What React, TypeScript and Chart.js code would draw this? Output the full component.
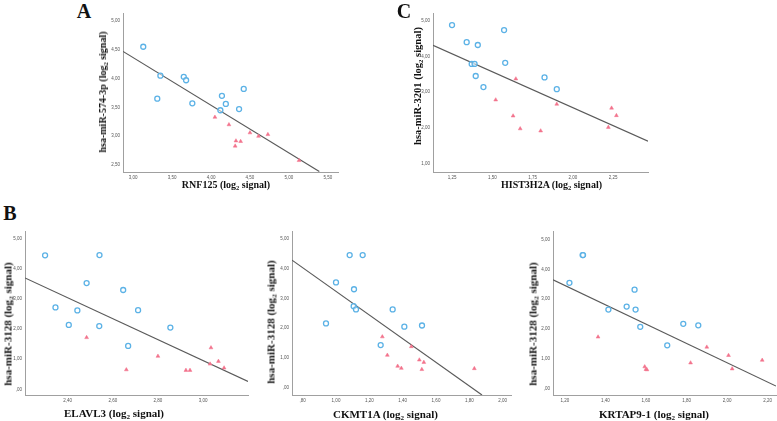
import React, { useEffect, useRef } from "react";
import { Chart, registerables } from "chart.js";

Chart.register(...registerables);

// ---------- Panel A: RNF125 vs hsa-miR-574-3p ----------
const aTicksX = [3.0, 3.5, 4.0, 4.5, 5.0, 5.5];
const aTicksY = [2.5, 3.0, 3.5, 4.0, 4.5, 5.0];
const aBlueX = [3.13, 3.35, 3.31, 3.65, 3.68, 3.76, 4.14, 4.19, 4.12, 4.36, 4.42];
const aBlueY = [4.55, 4.05, 3.65, 4.03, 3.97, 3.57, 3.7, 3.56, 3.45, 3.47, 3.82];
const aRedX = [4.05, 4.23, 4.5, 4.61, 4.73, 4.32, 4.38, 4.31, 5.13];
const aRedY = [3.33, 3.2, 3.06, 3.0, 3.03, 2.92, 2.91, 2.83, 2.58];
const aFitX = [2.87, 5.39];
const aFitY = [4.47, 2.39];

// ---------- Panel C: HIST3H2A vs hsa-miR-3201 ----------
const cTicksX = [1.25, 1.5, 1.75, 2.0, 2.25];
const cTicksY = [1, 2, 3, 4, 5];
const cBlueX = [1.25, 1.341, 1.41, 1.372, 1.39, 1.397, 1.445, 1.573, 1.58, 1.824, 1.9];
const cBlueY = [4.88, 4.4, 4.32, 3.79, 3.79, 3.45, 3.14, 4.74, 3.82, 3.41, 3.08];
const cRedX = [1.521, 1.646, 1.629, 1.673, 1.8, 1.9, 2.24, 2.27, 2.22];
const cRedY = [2.78, 3.37, 2.33, 1.97, 1.91, 2.66, 2.55, 2.34, 2.01];
const cFitX = [1.132, 2.466];
const cFitY = [4.31, 1.62];

// ---------- Panel B (left): ELAVL3 vs hsa-miR-3128 ----------
const bTicksY = [0, 1, 2, 3, 4, 5];
const b1TicksX = [2.4, 2.6, 2.8, 3.0];
const b1BlueX = [2.3, 2.346, 2.443, 2.405, 2.484, 2.541, 2.54, 2.646, 2.712, 2.668, 2.855];
const b1BlueY = [4.45, 2.72, 2.62, 2.14, 3.53, 4.46, 2.1, 3.3, 2.63, 1.44, 2.05];
const b1RedX = [2.484, 2.66, 2.8, 2.924, 2.942, 3.035, 3.031, 3.068, 3.093];
const b1RedY = [1.72, 0.65, 1.1, 0.63, 0.63, 1.38, 0.84, 0.93, 0.71];
const b1FitX = [2.211, 3.199];
const b1FitY = [3.7, 0.26];

// ---------- Panel B (middle): CKMT1A vs hsa-miR-3128 ----------
const b2TicksX = [0.8, 1.0, 1.2, 1.4, 1.6, 1.8, 2.0];
const b2BlueX = [0.94, 1.0, 1.082, 1.16, 1.108, 1.106, 1.12, 1.34, 1.268, 1.41, 1.516];
const b2BlueY = [2.16, 3.54, 4.46, 4.46, 3.31, 2.74, 2.63, 2.63, 1.43, 2.05, 2.09];
const b2RedX = [1.278, 1.308, 1.452, 1.37, 1.392, 1.5, 1.527, 1.515, 1.83];
const b2RedY = [1.71, 1.09, 1.38, 0.72, 0.65, 0.93, 0.85, 0.61, 0.64];
const b2FitX = [0.736, 1.876];
const b2FitY = [4.29, -0.25];

// ---------- Panel B (right): KRTAP9-1 vs hsa-miR-3128 ----------
const b3TicksX = [1.2, 1.4, 1.6, 1.8, 2.0, 2.2];
const b3BlueX = [1.223, 1.288, 1.29, 1.415, 1.505, 1.544, 1.549, 1.572, 1.705, 1.784, 1.858];
const b3BlueY = [3.55, 4.48, 4.48, 2.65, 2.75, 3.32, 2.65, 2.07, 1.45, 2.17, 2.12];
const b3RedX = [1.364, 1.594, 1.605, 1.6, 1.82, 1.9, 2.007, 2.025, 2.173];
const b3RedY = [1.73, 0.73, 0.63, 0.64, 0.86, 1.39, 1.11, 0.66, 0.95];
const b3FitX = [1.142, 2.241];
const b3FitY = [3.65, 0.08];

const BLUE = "#5cb2e6";
const RED = "#f2738c";
const SERIF = "'Liberation Serif', 'Times New Roman', serif";
const SANS = "'Liberation Sans', Arial, sans-serif";

const zip = (xs: number[], ys: number[]) => xs.map((x, i) => ({ x, y: ys[i] }));
const fmt = (v: number) => {
  const s = v.toFixed(2).replace(".", ",");
  return s.startsWith("0,") ? s.slice(1) : s;
};

type PanelCfg = {
  left: number; top: number; w: number; h: number;
  xMin: number; xMax: number; yMin: number; yMax: number;
  xTicks: number[]; yTicks: number[];
  blueX: number[]; blueY: number[]; redX: number[]; redY: number[];
  fitX: number[]; fitY: number[];
};

const Y_AXIS_W = 26;
const X_AXIS_H = 14;
const PAD_R = 6;

function Panel({ cfg }: { cfg: PanelCfg }) {
  const ref = useRef<HTMLCanvasElement | null>(null);
  const cw = Y_AXIS_W + cfg.w + PAD_R;
  const ch = cfg.h + X_AXIS_H;
  useEffect(() => {
    if (!ref.current) return;
    const tickFont = { size: 4.5, family: SANS };
    const chart = new Chart(ref.current, {
      type: "scatter",
      data: {
        datasets: [
          {
            data: zip(cfg.blueX, cfg.blueY),
            pointStyle: "circle",
            pointRadius: 2.5,
            borderColor: BLUE,
            backgroundColor: "rgba(255,255,255,0.5)",
            borderWidth: 1.3,
          },
          {
            data: zip(cfg.redX, cfg.redY),
            pointStyle: "triangle",
            pointRadius: 2.2,
            borderColor: RED,
            backgroundColor: RED,
            borderWidth: 0.5,
          },
          {
            type: "line",
            data: zip(cfg.fitX, cfg.fitY),
            borderColor: "#5a5a5a",
            borderWidth: 1.2,
            pointRadius: 0,
            fill: false,
            showLine: true,
          } as any,
        ],
      },
      options: {
        animation: false,
        responsive: false,
        maintainAspectRatio: false,
        events: [],
        layout: { padding: { top: 0, right: PAD_R, bottom: 0, left: 0 } },
        plugins: { legend: { display: false }, tooltip: { enabled: false } },
        scales: {
          x: {
            type: "linear",
            min: cfg.xMin,
            max: cfg.xMax,
            grid: { display: false, drawTicks: false },
            border: { display: true, color: "#a0a0a0", width: 1 },
            ticks: { font: tickFont, color: "#555", padding: 3, maxRotation: 0, autoSkip: false, callback: (v: any) => fmt(Number(v)) },
            afterBuildTicks: (s: any) => { s.ticks = cfg.xTicks.map((v) => ({ value: v })); },
            afterFit: (s: any) => { s.height = X_AXIS_H; s.paddingLeft = 0; s.paddingRight = 0; },
          },
          y: {
            type: "linear",
            min: cfg.yMin,
            max: cfg.yMax,
            grid: { display: false, drawTicks: false },
            border: { display: true, color: "#a0a0a0", width: 1 },
            ticks: { font: tickFont, color: "#555", padding: 3, autoSkip: false, callback: (v: any) => fmt(Number(v)) },
            afterBuildTicks: (s: any) => { s.ticks = cfg.yTicks.map((v) => ({ value: v })); },
            afterFit: (s: any) => { s.width = Y_AXIS_W; s.paddingTop = 0; s.paddingBottom = 0; },
          },
        },
      } as any,
    });
    return () => chart.destroy();
  }, [cfg]);
  return (
    <canvas
      ref={ref}
      width={cw}
      height={ch}
      style={{ position: "absolute", left: cfg.left - Y_AXIS_W, top: cfg.top, width: cw, height: ch }}
    />
  );
}

const panels: PanelCfg[] = [
  { left: 123, top: 8, w: 215, h: 164, xMin: 2.87, xMax: 5.63, yMin: 2.38, yMax: 5.13, xTicks: aTicksX, yTicks: aTicksY,
    blueX: aBlueX, blueY: aBlueY, redX: aRedX, redY: aRedY, fitX: aFitX, fitY: aFitY },
  { left: 433, top: 8, w: 215, h: 164, xMin: 1.132, xMax: 2.466, yMin: 0.755, yMax: 5.21, xTicks: cTicksX, yTicks: cTicksY,
    blueX: cBlueX, blueY: cBlueY, redX: cRedX, redY: cRedY, fitX: cFitX, fitY: cFitY },
  { left: 25, top: 226, w: 223, h: 169, xMin: 2.211, xMax: 3.199, yMin: -0.19, yMax: 5.25, xTicks: b1TicksX, yTicks: bTicksY,
    blueX: b1BlueX, blueY: b1BlueY, redX: b1RedX, redY: b1RedY, fitX: b1FitX, fitY: b1FitY },
  { left: 292, top: 226, w: 219, h: 169, xMin: 0.736, xMax: 2.05, yMin: -0.25, yMax: 5.26, xTicks: b2TicksX, yTicks: bTicksY,
    blueX: b2BlueX, blueY: b2BlueY, redX: b2RedX, redY: b2RedY, fitX: b2FitX, fitY: b2FitY },
  { left: 553, top: 226, w: 223, h: 169, xMin: 1.142, xMax: 2.241, yMin: -0.22, yMax: 5.28, xTicks: b3TicksX, yTicks: bTicksY,
    blueX: b3BlueX, blueY: b3BlueY, redX: b3RedX, redY: b3RedY, fitX: b3FitX, fitY: b3FitY },
];

function Label({ x, y, size, rotate, children }: { x: number; y: number; size: number; rotate?: boolean; children: React.ReactNode }) {
  return (
    <div
      style={{
        position: "absolute",
        left: x,
        top: y,
        transform: `translate(-50%, -50%)${rotate ? " rotate(-90deg)" : ""}`,
        fontFamily: SERIF,
        fontWeight: "bold",
        fontSize: size,
        lineHeight: 1,
        whiteSpace: "nowrap",
        color: "#111",
      }}
    >
      {children}
    </div>
  );
}

const Log2 = () => (
  <>
    {" (log"}
    <span style={{ fontSize: "0.65em", verticalAlign: "-0.3em", lineHeight: 0 }}>2</span>
    {" signal)"}
  </>
);

export default function App() {
  return (
    <div style={{ position: "absolute", left: 0, top: 0, width: 777, height: 421, overflow: "hidden", background: "#fff" }}>
      {panels.map((p, i) => (
        <Panel key={i} cfg={p} />
      ))}
      <Label x={84} y={11} size={20}>A</Label>
      <Label x={404} y={10.5} size={20}>C</Label>
      <Label x={10} y={213} size={20}>B</Label>

      <Label x={226} y={185} size={10}>RNF125<Log2 /></Label>
      <Label x={103} y={91.5} size={10} rotate>hsa-miR-574-3p<Log2 /></Label>

      <Label x={551.5} y={185} size={10}>HIST3H2A<Log2 /></Label>
      <Label x={418} y={86} size={10.5} rotate>hsa-miR-3201<Log2 /></Label>

      <Label x={114} y={413} size={11}>ELAVL3<Log2 /></Label>
      <Label x={7.5} y={323.5} size={11} rotate>hsa-miR-3128<Log2 /></Label>

      <Label x={385.5} y={414} size={11}>CKMT1A<Log2 /></Label>
      <Label x={271} y={321.5} size={11} rotate>hsa-miR-3128<Log2 /></Label>

      <Label x={654} y={414} size={11}>KRTAP9-1<Log2 /></Label>
      <Label x={533} y={324} size={11} rotate>hsa-miR-3128<Log2 /></Label>
    </div>
  );
}
